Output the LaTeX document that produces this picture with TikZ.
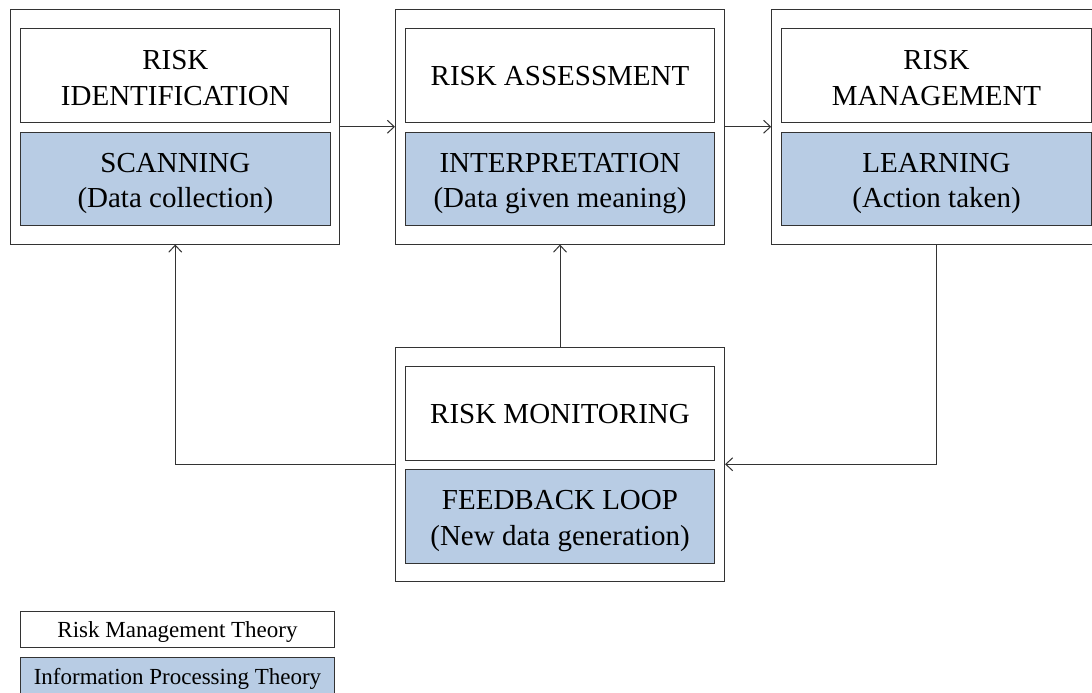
\documentclass[tikz,border=0pt]{standalone}
\usepackage{fontspec}
\setmainfont{Liberation Serif}
\usetikzlibrary{arrows.meta}
\definecolor{ipblue}{HTML}{B8CCE4}
\tikzset{
  outerbox/.style={draw=black!80, line width=1pt, fill=white, minimum width=329pt, minimum height=234.5pt, inner sep=0pt},
  whitebox/.style={draw=black!80, line width=1pt, fill=white, minimum width=309.3pt, minimum height=93.7pt, inner sep=0pt},
  bluebox/.style={whitebox, fill=ipblue},
  txt/.style={inner sep=0pt, align=center, font=\fontsize{29}{35.4}\selectfont},
  legendbox/.style={draw=black!80, line width=1pt, minimum width=313.6pt, minimum height=36.7pt, inner sep=0pt},
  legendtxt/.style={inner sep=0pt, font=\fontsize{23}{27}\selectfont},
  conn/.style={draw=black!80, line width=1pt, -{Straight Barb[length=7pt,width=13pt]}}
}
\begin{document}
\begin{tikzpicture}[x=1pt,y=-1pt]
\path[use as bounding box] (0,0) rectangle (1092,693);
\clip (0,0) rectangle (1092,693);
% outer boxes
\node[outerbox] (b1) at (175.25,126.75) {};
\node[outerbox] (b2) at (560,126.75) {};
\node[outerbox] (b3) at (936.25,126.75) {};
\node[outerbox, minimum height=233.5pt] (b4) at (560,464.25) {};
% inner boxes
\node[whitebox] (w1) at (175.35,75.85) {};
\node[bluebox]  (c1) at (175.35,178.85) {};
\node[whitebox] (w2) at (560,75.85) {};
\node[bluebox]  (c2) at (560,178.85) {};
\node[whitebox] (w3) at (936.5,75.85) {};
\node[bluebox]  (c3) at (936.5,178.85) {};
\node[whitebox, minimum height=94pt] (w4) at (560,413) {};
\node[bluebox, minimum height=93.3pt] (c4) at (560,516.6) {};
% texts
\node[txt] (w1t) at ([yshift=-2pt]w1.center) {RISK\\IDENTIFICATION};
\node[txt] (c1t) at ([yshift=-4.5pt]c1.center) {SCANNING\\(Data collection)};
\node[txt] (w2t) at ([yshift=0pt]w2.center) {RISK ASSESSMENT};
\node[txt] (c2t) at ([yshift=-4.5pt]c2.center) {INTERPRETATION\\(Data given meaning)};
\node[txt] (w3t) at ([yshift=-2pt]w3.center) {RISK\\MANAGEMENT};
\node[txt] (c3t) at ([yshift=-4.5pt]c3.center) {LEARNING\\(Action taken)};
\node[txt] (w4t) at ([yshift=-1pt]w4.center) {RISK MONITORING};
\node[txt] (c4t) at ([yshift=-4.5pt]c4.center) {FEEDBACK LOOP\\(New data generation)};
% connectors
\draw[conn] (b1.east) -- (b2.west);
\draw[conn] (b2.east) -- (b3.west);
\draw[conn] (b3.south) |- (b4.east);
\draw[conn] (b4.west) -| (b1.south);
\draw[conn] (b4.north) -- (b2.south);
% legend
\node[legendbox, fill=white] (l1) at (177.5,629.35) {};
\node[legendbox, fill=ipblue] (l2) at (177.5,675.65) {};
\node[legendtxt] (l1t) at ([yshift=-3pt]l1.center) {Risk Management Theory};
\node[legendtxt] (l2t) at ([yshift=-3pt]l2.center) {Information Processing Theory};
\end{tikzpicture}
\end{document}
